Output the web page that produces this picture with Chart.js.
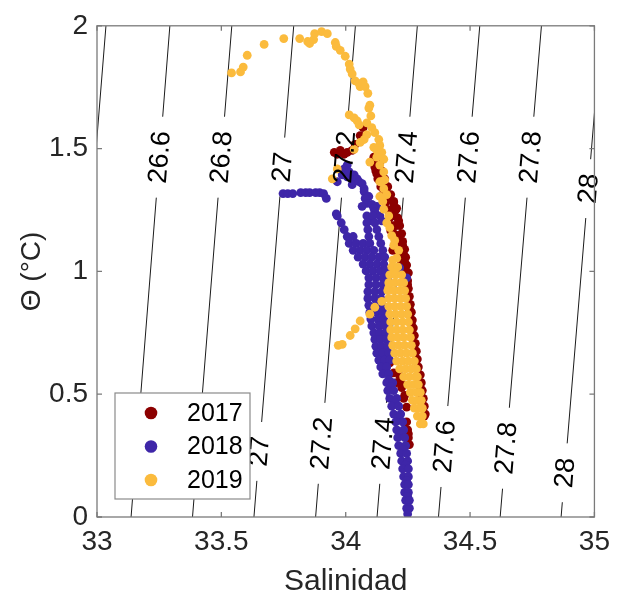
<!DOCTYPE html>
<html>
<head>
<meta charset="utf-8">
<script src="https://cdn.jsdelivr.net/npm/chart.js@4.4.1/dist/chart.umd.min.js"></script>
<style>
  html, body { margin: 0; padding: 0; background: #fff; }
  canvas { display: block; }
</style>
</head>
<body>
<canvas id="tsChart" width="618" height="601"></canvas>
<script>
// Diagrama T-S, cada punto es [salinidad, theta]
const ts2017 = [
  [34.070,1.585],[34.058,1.553],[34.038,1.517],[34.026,1.493],[34.006,1.485],[33.994,1.477],[33.978,1.493],[33.966,1.477],[33.954,1.485],
  [34.113,1.465],[34.117,1.425],[34.125,1.397],[34.137,1.377],[34.145,1.345],[34.165,1.345],[34.157,1.313],[34.173,1.313],[34.177,1.305],
  [34.193,1.285],[34.193,1.265],[34.205,1.257],[34.197,1.226],[34.185,1.226],[34.213,1.206],[34.197,1.186],[34.201,1.186],[34.181,1.166],
  [34.205,1.146],[34.209,1.146],[34.217,1.106],[34.229,1.106],[34.189,1.086],[34.225,1.078],[34.213,1.066],[34.233,1.066],[34.237,1.038],
  [34.221,1.026],[34.245,0.998],[34.241,0.978],[34.249,0.946],[34.252,0.894],[34.256,0.846],[34.264,0.786],[34.268,0.747],[34.272,0.707],
  [34.276,0.667],[34.280,0.635],[34.288,0.603],[34.300,0.527],[34.304,0.487],[34.312,0.447],[34.316,0.411],
  [34.113,1.441],[34.137,1.441],[34.121,1.409],[34.145,1.409],[34.129,1.377],[34.157,1.377],[34.141,1.345],[34.169,1.345],[34.149,1.313],
  [34.181,1.313],[34.161,1.281],[34.193,1.281],[34.169,1.250],[34.201,1.250],[34.177,1.218],[34.209,1.218],[34.185,1.186],[34.217,1.186],
  [34.193,1.154],[34.225,1.154],[34.201,1.122],[34.229,1.122],[34.209,1.090],[34.237,1.090],[34.217,1.058],[34.241,1.058],[34.225,1.026],
  [34.245,1.026],[34.233,0.994],[34.252,0.994],
  [34.249,0.962],[34.252,0.930],[34.256,0.898],[34.260,0.866],[34.264,0.834],[34.268,0.802],[34.272,0.770],[34.276,0.739],[34.280,0.707],
  [34.284,0.675],[34.288,0.643],[34.292,0.611],[34.300,0.579],[34.304,0.547],[34.308,0.515],[34.312,0.483],[34.316,0.451],[34.320,0.419],
  [34.177,0.627],[34.193,0.587],[34.217,0.575],[34.205,0.547],[34.221,0.547],[34.225,0.527],[34.237,0.495],[34.233,0.483],[34.245,0.447],
  [34.245,0.387],[34.249,0.355],[34.252,0.339],[34.252,0.323],[34.256,0.295]
];
const ts2018 = [
  [33.748,1.317],[33.767,1.317],[33.787,1.317],[33.819,1.321],[33.839,1.321],[33.855,1.321],[33.879,1.321],[33.895,1.321],[33.911,1.317],[33.922,1.297],
  [34.006,1.433],[33.994,1.417],[33.986,1.405],[33.986,1.393],[33.966,1.365],[34.006,1.385],[34.014,1.405],[34.034,1.393],[34.026,1.373],
  [34.046,1.377],[34.026,1.353],[34.054,1.365],[34.066,1.357],[34.074,1.337],[34.074,1.325],[34.093,1.305],[34.078,1.297],[34.085,1.277],
  [34.105,1.273],[34.066,1.265],[34.125,1.265],[34.113,1.257],[34.117,1.242],[34.137,1.226],[34.093,1.206],[34.145,1.206],
  [33.962,1.234],
  [33.966,1.226],[34.085,1.226],[34.109,1.226],
  [33.982,1.198],[34.085,1.198],[34.117,1.198],
  [33.994,1.170],[34.089,1.170],[34.125,1.170],
  [34.006,1.142],[34.030,1.142],[34.093,1.142],[34.133,1.142],
  [34.014,1.114],[34.042,1.114],[34.070,1.114],[34.097,1.114],[34.141,1.114],
  [34.030,1.086],[34.058,1.086],[34.085,1.086],[34.113,1.086],[34.149,1.086],
  [34.050,1.058],[34.078,1.058],[34.105,1.058],[34.133,1.058],[34.157,1.058],
  [34.070,1.030],[34.097,1.030],[34.125,1.030],[34.153,1.030],
  [34.082,1.002],[34.109,1.002],[34.137,1.002],[34.161,1.002],
  [34.093,0.974],[34.121,0.974],[34.149,0.974],[34.169,0.974],
  [34.093,0.946],[34.121,0.946],[34.149,0.946],
  [34.089,0.918],[34.117,0.918],[34.145,0.918],
  [34.089,0.890],[34.117,0.890],[34.141,0.890],
  [34.093,0.862],[34.121,0.862],[34.145,0.862],
  [34.097,0.834],[34.125,0.834],[34.149,0.834],
  [34.101,0.806],[34.129,0.806],[34.153,0.806],
  [34.105,0.778],[34.133,0.778],[34.157,0.778],
  [34.113,0.750],[34.137,0.750],[34.161,0.750],
  [34.117,0.723],[34.141,0.723],[34.165,0.723],
  [34.121,0.695],[34.145,0.695],[34.169,0.695],
  [34.125,0.667],[34.149,0.667],[34.173,0.667],
  [34.133,0.639],[34.157,0.639],[34.177,0.639],
  [34.141,0.611],[34.165,0.611],
  [34.149,0.583],[34.173,0.583],[34.173,0.559],
  [34.217,1.014],[34.245,0.974],
  [34.165,0.547],[34.189,0.547],[34.181,0.531],[34.169,0.515],[34.193,0.515],[34.177,0.483],[34.205,0.483],[34.197,0.467],[34.185,0.451],
  [34.213,0.451],[34.193,0.419],[34.221,0.419],[34.213,0.403],[34.201,0.387],[34.229,0.387],[34.205,0.355],[34.233,0.355],[34.225,0.339],
  [34.209,0.323],[34.237,0.323],[34.213,0.291],[34.241,0.291],[34.233,0.275],[34.221,0.259],[34.245,0.259],[34.225,0.228],[34.249,0.228],
  [34.241,0.212],[34.229,0.196],[34.252,0.196],[34.233,0.164],[34.252,0.164],[34.245,0.148],[34.237,0.132],[34.252,0.132],[34.237,0.100],
  [34.252,0.100],[34.249,0.084],[34.241,0.068],[34.256,0.068],[34.245,0.036],[34.256,0.036],[34.249,0.028],[34.249,0.012]
];
const ts2019 = [
  [33.541,1.808],[33.577,1.812],[33.588,1.832],[33.604,1.880],[33.672,1.924],[33.751,1.948],[33.815,1.948],[33.847,1.936],[33.855,1.928],
  [33.871,1.944],[33.875,1.968],[33.903,1.976],[33.926,1.968],[33.958,1.932],[33.962,1.916],[33.978,1.900],[33.998,1.876],[34.014,1.844],
  [34.018,1.824],[34.026,1.804],[34.038,1.776],[34.054,1.764],[34.070,1.772],[34.058,1.752],[34.078,1.752],[34.089,1.725],[34.097,1.677],
  [34.093,1.665],[34.101,1.633],
  [34.014,1.637],[34.034,1.625],[34.046,1.613],[34.085,1.605],[34.054,1.597],[34.105,1.585],[34.117,1.565],[34.085,1.557],[34.074,1.537],
  [34.058,1.525],[34.133,1.537],[34.137,1.513],[34.113,1.505],[34.125,1.493],[34.145,1.485],[34.034,1.497],[34.125,1.465],[34.153,1.457],
  [34.097,1.445],[34.137,1.433],[33.966,1.417],[34.153,1.405],[33.946,1.377],[34.157,1.373],[34.137,1.365],[34.145,1.365],[34.153,1.337],
  [34.165,1.313],[34.137,1.305],[34.149,1.285],[34.153,1.253],[34.173,1.226],[34.165,1.198],[34.177,1.178],[34.185,1.146],[34.197,1.126],
  [34.193,1.106],[34.213,1.086],[34.205,1.054],[34.189,1.046],
  [34.185,1.018],[34.209,1.018],[34.197,0.994],
  [34.177,0.986],[34.201,0.986],[34.225,0.986],
  [34.173,0.954],[34.197,0.954],[34.221,0.954],[34.233,0.954],[34.173,0.934],
  [34.169,0.922],[34.193,0.922],[34.217,0.922],[34.237,0.922],
  [34.173,0.890],[34.197,0.890],[34.221,0.890],[34.241,0.890],[34.145,0.878],
  [34.173,0.858],[34.197,0.858],[34.221,0.858],[34.245,0.858],[34.117,0.854],
  [34.177,0.826],[34.201,0.826],[34.225,0.826],[34.249,0.826],[34.097,0.826],[34.058,0.798],
  [34.181,0.794],[34.205,0.794],[34.229,0.794],[34.252,0.794],[34.038,0.766],
  [34.181,0.762],[34.205,0.762],[34.229,0.762],[34.256,0.762],[34.018,0.739],
  [34.185,0.731],[34.209,0.731],[34.233,0.731],[34.260,0.731],[33.986,0.703],[33.970,0.699],
  [34.189,0.699],[34.213,0.699],[34.237,0.699],[34.264,0.699],
  [34.197,0.667],[34.221,0.667],[34.245,0.667],[34.268,0.667],
  [34.205,0.635],[34.229,0.635],[34.252,0.635],[34.276,0.635],
  [34.217,0.603],[34.241,0.603],[34.264,0.603],[34.284,0.603],
  [34.233,0.571],[34.256,0.571],[34.280,0.571],[34.288,0.571],
  [34.249,0.539],[34.272,0.539],[34.292,0.539],
  [34.260,0.507],[34.284,0.507],[34.300,0.507],
  [34.268,0.475],[34.288,0.475],[34.304,0.475],
  [34.276,0.443],[34.296,0.443],[34.308,0.443],
  [34.288,0.411],[34.308,0.411],
  [34.300,0.379],[34.312,0.379]
];

const years = ['2017', '2018', '2019'];
const yearColors = ['#8c0000', '#3e26a8', '#fbbb3d'];

// Isopicnas: salinidad donde cada linea cruza theta = 0 y theta = 2
const sigmaLabels = ['26.4', '26.6', '26.8', '27', '27.2', '27.4', '27.6', '27.8', '28'];
const salAtT0 = [32.877, 33.137, 33.384, 33.631, 33.879, 34.126, 34.373, 34.621, 34.866];
const salAtT2 = [33.036, 33.293, 33.542, 33.791, 34.039, 34.288, 34.539, 34.787, 35.029];
// theta donde va la etiqueta de cada linea (null = sin etiqueta)
const labelTUpper = [null, 1.465, 1.465, 1.425, 1.465, 1.465, 1.465, 1.465, 1.337];
const labelTLower = [null, null, null, 0.267, 0.300, 0.300, 0.287, 0.280, 0.180];

const xTicks = [33, 33.5, 34, 34.5, 35];
const yTicks = [0, 0.5, 1, 1.5, 2];

const fontFamily = "'Liberation Sans', Arial, Helvetica, sans-serif";
const labelFontSize = 27;
const pxPerTheta = 501 / 2;

const measureCtx = document.createElement('canvas').getContext('2d');
measureCtx.font = labelFontSize + 'px ' + fontFamily;

function salOnLine(i, t) {
  return salAtT0[i] + (salAtT2[i] - salAtT0[i]) * t / 2;
}

// Linea cortada donde van las etiquetas
function contourData(i) {
  const cuts = [];
  [labelTUpper[i], labelTLower[i]].forEach(t => {
    if (t == null) return;
    const half = (measureCtx.measureText(sigmaLabels[i]).width / 2 + 15) / pxPerTheta;
    cuts.push([t - half, t + half]);
  });
  cuts.sort((a, b) => a[0] - b[0]);
  const pts = [{ x: salOnLine(i, 0), y: 0 }];
  cuts.forEach(([a, b]) => {
    pts.push({ x: salOnLine(i, a), y: a });
    pts.push({ x: salOnLine(i, (a + b) / 2), y: null });
    pts.push({ x: salOnLine(i, b), y: b });
  });
  pts.push({ x: salOnLine(i, 2), y: 2 });
  return pts;
}

const contourSets = sigmaLabels.map((lab, i) => ({
  label: 'sigma ' + lab,
  data: contourData(i),
  showLine: true,
  spanGaps: false,
  borderColor: '#000',
  borderWidth: 0.9,
  pointRadius: 0,
  order: 10
}));

const yearSeries = [ts2017, ts2018, ts2019];
const scatterSets = yearSeries.map((serie, k) => ({
  label: years[k],
  data: serie.map(p => ({ x: p[0], y: p[1] })),
  backgroundColor: yearColors[k],
  borderWidth: 0,
  pointRadius: 4.4,
  order: 3 - k
}));

const frameColor = '#7a7a7a';
const textColor = '#262626';

const tsDecor = {
  id: 'tsDecor',
  afterDatasetsDraw(chart) {
    // etiquetas de las isopicnas, por encima de los puntos
    const ctx = chart.ctx;
    const xs = chart.scales.x, ys = chart.scales.y;
    ctx.save();
    ctx.font = labelFontSize + 'px ' + fontFamily;
    ctx.fillStyle = '#000';
    ctx.textAlign = 'center';
    ctx.textBaseline = 'middle';
    sigmaLabels.forEach((lab, i) => {
      const x0 = xs.getPixelForValue(salAtT0[i]), y0 = ys.getPixelForValue(0);
      const x1 = xs.getPixelForValue(salAtT2[i]), y1 = ys.getPixelForValue(2);
      const ang = Math.atan2(y1 - y0, x1 - x0);
      [labelTUpper[i], labelTLower[i]].forEach(t => {
        if (t == null) return;
        ctx.save();
        ctx.translate(xs.getPixelForValue(salOnLine(i, t)), ys.getPixelForValue(t));
        ctx.rotate(ang);
        ctx.fillText(lab, 0, 1);
        ctx.restore();
      });
    });
    ctx.restore();
  },
  afterDraw(chart) {
    const ctx = chart.ctx;
    const a = chart.chartArea;
    const xs = chart.scales.x, ys = chart.scales.y;
    ctx.save();
    // marco y marcas hacia dentro
    ctx.strokeStyle = frameColor;
    ctx.lineWidth = 1.3;
    ctx.strokeRect(a.left, a.top, a.right - a.left, a.bottom - a.top);
    ctx.beginPath();
    xTicks.forEach(v => {
      const px = xs.getPixelForValue(v);
      ctx.moveTo(px, a.bottom); ctx.lineTo(px, a.bottom - 5);
      ctx.moveTo(px, a.top); ctx.lineTo(px, a.top + 5);
    });
    yTicks.forEach(v => {
      const py = ys.getPixelForValue(v);
      ctx.moveTo(a.left, py); ctx.lineTo(a.left + 5, py);
      ctx.moveTo(a.right, py); ctx.lineTo(a.right - 5, py);
    });
    ctx.stroke();

    // leyenda
    const bx = a.left + 18, by = a.bottom - 124, bw = 135, bh = 106;
    ctx.fillStyle = '#fff';
    ctx.fillRect(bx, by, bw, bh);
    ctx.strokeStyle = '#8a8a8a';
    ctx.lineWidth = 1.2;
    ctx.strokeRect(bx, by, bw, bh);
    ctx.font = '25px ' + fontFamily;
    ctx.textAlign = 'left';
    ctx.textBaseline = 'middle';
    years.forEach((yr, k) => {
      const cy = by + 20 + k * 33.5;
      ctx.fillStyle = yearColors[k];
      ctx.beginPath();
      ctx.arc(bx + 36, cy, 6.3, 0, Math.PI * 2);
      ctx.fill();
      ctx.fillStyle = '#000';
      ctx.fillText(yr, bx + 72, cy + 1);
    });
    ctx.restore();
  }
};

const ctx = document.getElementById('tsChart').getContext('2d');
new Chart(ctx, {
  type: 'scatter',
  data: { datasets: contourSets.concat(scatterSets) },
  options: {
    responsive: false,
    animation: false,
    layout: { padding: { top: 16, right: 18, bottom: 0, left: 0 } },
    plugins: {
      legend: { display: false },
      tooltip: { enabled: false }
    },
    scales: {
      x: {
        type: 'linear',
        min: 33,
        max: 35,
        afterBuildTicks: s => { s.ticks = xTicks.map(v => ({ value: v })); },
        ticks: {
          font: { size: 28, family: fontFamily },
          color: textColor,
          padding: 8,
          maxRotation: 0,
          callback: v => String(v)
        },
        grid: { display: false, drawTicks: false },
        border: { display: false },
        title: {
          display: true,
          text: 'Salinidad',
          font: { size: 30, family: fontFamily },
          color: textColor,
          padding: { top: 0, bottom: 1 }
        },
        afterFit: s => { s.height = 84; }
      },
      y: {
        type: 'linear',
        min: 0,
        max: 2,
        afterBuildTicks: s => { s.ticks = yTicks.map(v => ({ value: v })); },
        ticks: {
          font: { size: 28, family: fontFamily },
          color: textColor,
          padding: 9,
          callback: v => String(v)
        },
        grid: { display: false, drawTicks: false },
        border: { display: false },
        title: {
          display: true,
          text: 'Θ (°C)',
          font: { size: 28, family: fontFamily },
          color: textColor,
          padding: { top: 15, bottom: 0 }
        },
        afterFit: s => { s.width = 97; }
      }
    }
  },
  plugins: [tsDecor]
});
</script>
</body>
</html>
